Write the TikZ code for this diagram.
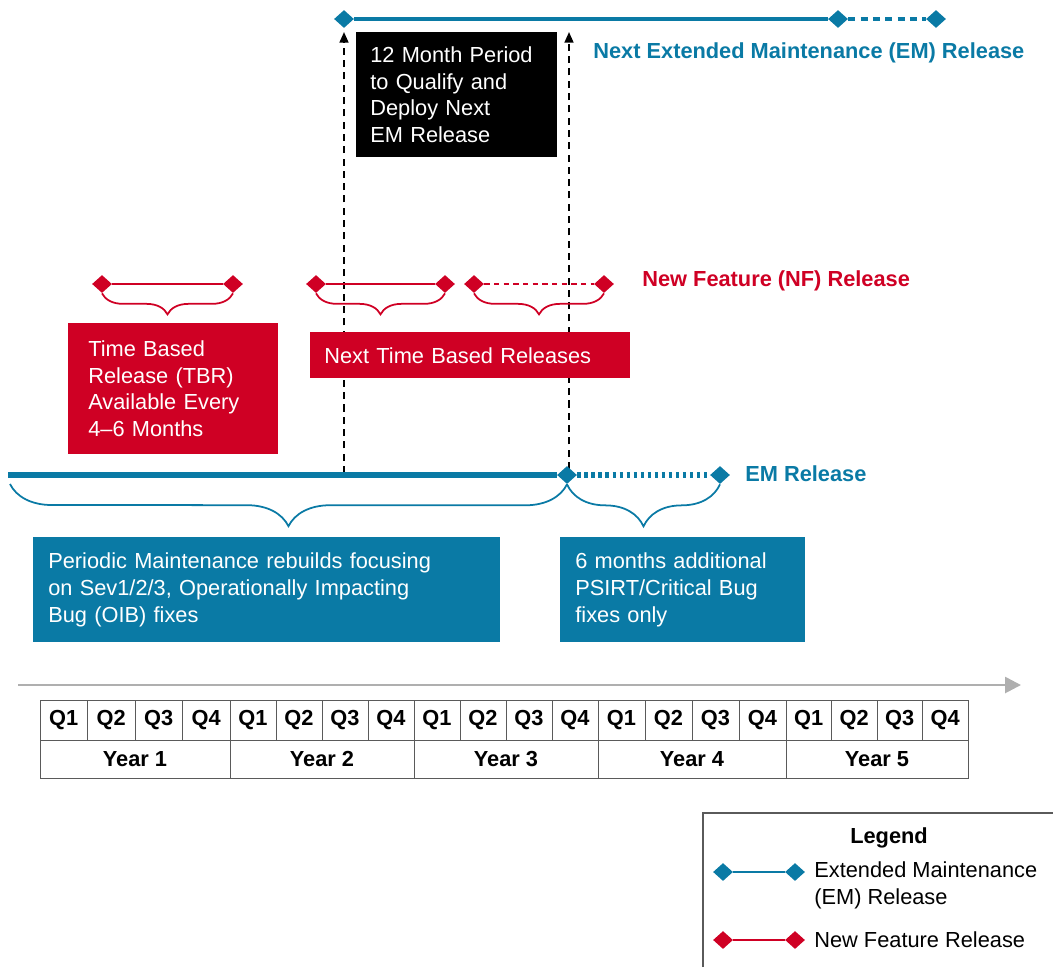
\documentclass[tikz,border=0pt]{standalone}
\usepackage{fontspec}
\setmainfont{Liberation Sans}
\usetikzlibrary{shapes.geometric,arrows.meta,decorations.pathreplacing}
\definecolor{emblue}{RGB}{10,122,165}
\definecolor{nfred}{RGB}{207,0,36}
\definecolor{axisgray}{RGB}{175,175,175}
\definecolor{gridgray}{RGB}{90,90,90}
\newcommand{\diagfont}{\fontsize{12.4}{15.2}\selectfont}

\begin{document}
\begin{tikzpicture}
  [x=0.02cm,y=-0.02cm,
   every node/.style={font=\diagfont,inner sep=0pt},
   emdot/.style={diamond,fill=emblue,minimum width=0.4cm,minimum height=0.36cm},
   nfdot/.style={diamond,fill=nfred,minimum width=0.4cm,minimum height=0.36cm},
   emline/.style={emblue,line width=2pt},
   nfline/.style={nfred,line width=1.2pt},
   nfbrace/.style={nfred,line width=1pt,decorate,decoration={brace,mirror,amplitude=0.42cm}},
   embrace/.style={emblue,line width=1pt,decorate,decoration={brace,mirror,amplitude=0.84cm}},
   infobox/.style={anchor=north west,fill=#1,text=white,align=left,inner ysep=0pt},
   qualify/.style={black,line width=1.1pt,dash pattern=on 4pt off 3pt,-{Triangle[length=6pt,width=5pt]}},
   cell/.style={draw=gridgray,line width=0.5pt,font=\diagfont\bfseries}]
  \useasboundingbox (0,0) rectangle (1053,967);

  % 12 month window
  \coordinate (qa0) at (344,473);
  \coordinate (qa1) at (344,32);
  \coordinate (qb0) at (569,469);
  \coordinate (qb1) at (569,32);
  \draw[qualify] (qa0) -- (qa1);
  \draw[qualify] (qb0) -- (qb1);

  % next EM release
  \node[emdot] (t1) at (344,19) {};
  \node[emdot] (t2) at (838,19) {};
  \node[emdot] (t3) at (936,19) {};
  \draw[emline] (t1) -- (t2);
  \draw[emline,dash pattern=on 4pt off 3pt] (t2) -- (t3);
  \node[anchor=west,text=emblue,font=\diagfont\bfseries] (nextem) at (593,53) {Next Extended Maintenance (EM) Release};
  \node[infobox=black,text width=3.46cm,inner xsep=0.28cm,minimum height=2.5cm] (qualbox) at (356,32) {12 Month Period\\to Qualify and\\Deploy Next\\EM Release};

  % NF releases
  \foreach \n/\x in {1/102,2/233,3/316,4/445,5/474,6/604}
    \node[nfdot] (nf\n) at (\x,284) {};
  \draw[nfline] (nf1) -- (nf2);
  \draw[nfline] (nf3) -- (nf4);
  \draw[nfline,dash pattern=on 3pt off 2.5pt] (nf5) -- (nf6);
  \draw[nfbrace] (nf1.south) -- (nf2.south);
  \draw[nfbrace] (nf3.south) -- (nf4.south);
  \draw[nfbrace] (nf5.south) -- (nf6.south);
  \node[anchor=west,text=nfred,font=\diagfont\bfseries] (nflabel) at (642,281) {New Feature (NF) Release};
  \node[infobox=nfred,text width=3.4cm,inner xsep=0.4cm,minimum height=2.62cm] (tbr) at (68,323) {Time Based\\Release (TBR)\\Available Every\\4--6 Months};
  \node[infobox=nfred,text width=5.84cm,inner xsep=0.28cm,minimum height=0.92cm] (nexttbr) at (310,332) {Next Time Based Releases};

  % current EM release
  \coordinate (emstart) at (8,475);
  \node[emdot] (em1) at (567,475) {};
  \node[emdot] (em2) at (720,475) {};
  \draw[emline,line width=3.2pt] (emstart) -- (em1);
  \draw[emline,line width=3.2pt,dash pattern=on 2pt off 2pt] (em1) -- (em2);
  \node[anchor=west,text=emblue,font=\diagfont\bfseries] (emlabel) at (745,474) {EM Release};
  \coordinate (pmstart) at (10,484);
  \draw[embrace] (pmstart) -- (em1.south);
  \draw[embrace] (em1.south) -- (em2.south);
  \node[infobox=emblue,text width=8.74cm,inner xsep=0.3cm,minimum height=2.1cm] (pm) at (33,537) {Periodic Maintenance rebuilds focusing\\on Sev1/2/3, Operationally Impacting\\Bug (OIB) fixes};
  \node[infobox=emblue,text width=4.3cm,inner xsep=0.3cm,minimum height=2.1cm] (psirt) at (560,537) {6 months additional\\PSIRT/Critical Bug\\fixes only};

  % time axis and quarters
  \coordinate (tl0) at (18,685);
  \coordinate (tl1) at (1021,685);
  \draw[axisgray,line width=1.5pt,-{Triangle[length=9pt,width=9pt]}] (tl0) -- (tl1);
  \foreach \yr/\xa/\xb in {1/40/230,2/230/414,3/414/598,4/598/786,5/786/968}{
    \pgfmathsetmacro\qw{(\xb-\xa)/4}
    \node[cell,minimum width=4*\qw*0.02cm,minimum height=0.76cm] (y\yr) at ({(\xa+\xb)/2},759) {Year \yr};
    \foreach \q in {1,...,4}
      \node[cell,minimum width=\qw*0.02cm,minimum height=0.8cm] (q\yr\q) at ({\xa+(\q-0.5)*\qw},720) {Q\q};
  }

  % legend
  \coordinate (lgbl) at (703,967);
  \coordinate (lgtr) at (1053,813);
  \draw[gridgray,line width=0.8pt] (lgbl) |- (lgtr);
  \node[font=\diagfont\bfseries] (lgtitle) at (889,838) {Legend};
  \node[emdot] (lg1) at (723,872) {};
  \node[emdot] (lg2) at (795,872) {};
  \draw[emline,line width=1.2pt] (lg1) -- (lg2);
  \node[anchor=west,align=left] (lgemtext) at (814,885) {Extended Maintenance\\(EM) Release};
  \node[nfdot] (lg3) at (723,940) {};
  \node[nfdot] (lg4) at (795,940) {};
  \draw[nfline] (lg3) -- (lg4);
  \node[anchor=west] (lgnftext) at (814,940) {New Feature Release};
\end{tikzpicture}
\end{document}
